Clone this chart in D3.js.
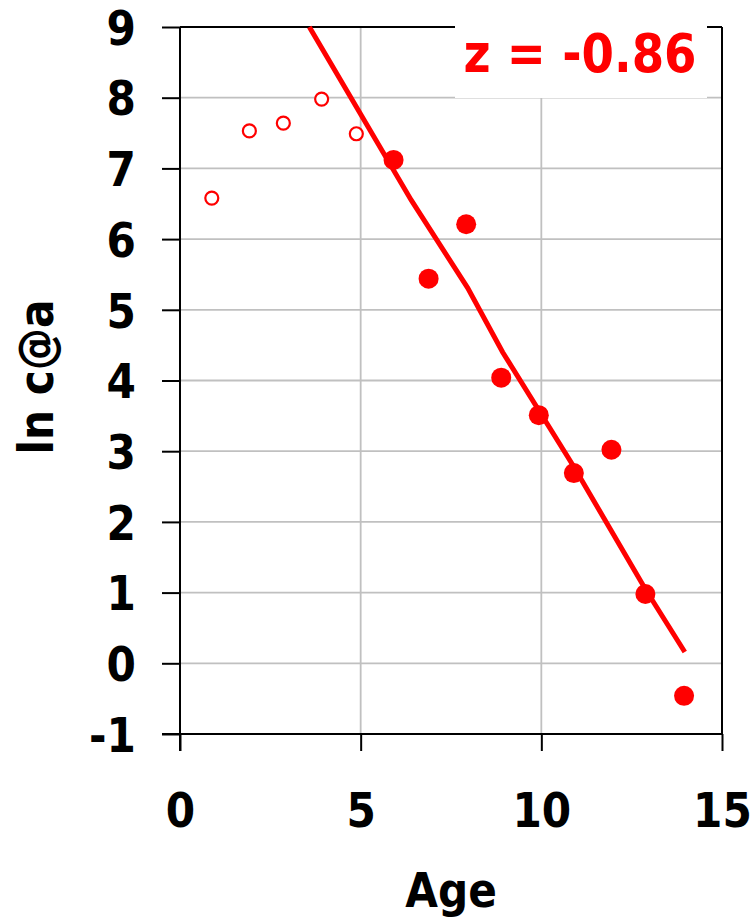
<!DOCTYPE html>
<html>
<head>
<meta charset="utf-8">
<script src="https://cdn.jsdelivr.net/npm/d3@7"></script>
<style>
  body { margin: 0; background: #fff; }
  text { font-family: "DejaVu Sans", Verdana, sans-serif; font-weight: bold; }
</style>
</head>
<body>
<div id="chart"></div>
<script>
// Datos
// =====
var openAges   = [0.88, 1.92, 2.86, 3.92, 4.88];
var openValues = [6.58, 7.53, 7.64, 7.98, 7.49];

var fullAges   = [5.91, 6.88, 7.92, 8.89, 9.93, 10.9, 11.94, 12.88, 13.95];
var fullValues = [7.12, 5.44, 6.21, 4.04, 3.51, 2.69, 3.02, 0.98, -0.46];

// recta de regresion
var fitAges   = [3.58, 6.4, 7.96, 8.93, 10.9, 12.89, 13.97];
var fitValues = [9.0, 6.55, 5.31, 4.40, 2.78, 1.04, 0.16];

var xTicks = [0, 5, 10, 15];
var yTicks = [-1, 0, 1, 2, 3, 4, 5, 6, 7, 8, 9];
var label = "z = -0.86";

// Dimensiones
// ===========
var margin = { top: 27, right: 32, bottom: 186, left: 180 },
  width = 754 - margin.left - margin.right,
  height = 920 - margin.top - margin.bottom;

var sx = 0.88; // el texto original es mas estrecho

var svg = d3.select("#chart")
  .append("svg")
  .attr("width", width + margin.left + margin.right)
  .attr("height", height + margin.top + margin.bottom)
  .append("g")
  .attr("transform", "translate(" + margin.left + "," + margin.top + ")");

var x = d3.scaleLinear().domain([0, 15]).range([0, width]);
var y = d3.scaleLinear().domain([-1, 9]).range([height, 0]);

// Rejilla
// =======
svg.selectAll(".hgrid")
  .data(yTicks.filter(function(d) { return d > -1 && d < 9; }))
  .enter().append("line")
  .attr("x1", 0).attr("x2", width)
  .attr("y1", function(d) { return y(d); })
  .attr("y2", function(d) { return y(d); })
  .attr("stroke", "#c0c0c0").attr("stroke-width", 1.8);

svg.selectAll(".vgrid")
  .data(xTicks.filter(function(d) { return d > 0 && d < 15; }))
  .enter().append("line")
  .attr("x1", function(d) { return x(d); })
  .attr("x2", function(d) { return x(d); })
  .attr("y1", 0).attr("y2", height)
  .attr("stroke", "#c0c0c0").attr("stroke-width", 1.8);

// Ejes
// ====
var fmt = function(d) { return String(d); }; // guion normal, no signo menos

var yAxis = svg.append("g")
  .call(d3.axisLeft(y).tickValues(yTicks).tickFormat(fmt).tickSize(18).tickSizeOuter(0));
yAxis.select(".domain").remove();
yAxis.selectAll("line").attr("stroke", "#000").attr("stroke-width", 2);
yAxis.selectAll("text")
  .attr("transform", "scale(" + sx + ",1)")
  .attr("x", -44 / sx)
  .attr("dy", "0.36em")
  .attr("fill", "#000")
  .style("font-size", "48px");

var xAxis = svg.append("g")
  .attr("transform", "translate(0," + height + ")")
  .call(d3.axisBottom(x).tickValues(xTicks).tickFormat(fmt).tickSize(17).tickSizeOuter(0));
xAxis.select(".domain").remove();
xAxis.selectAll("line").attr("stroke", "#000").attr("stroke-width", 2);
xAxis.selectAll("text")
  .attr("transform", "scale(" + sx + ",1)")
  .attr("x", 0)
  .attr("y", 93)
  .attr("dy", 0)
  .attr("fill", "#000")
  .style("font-size", "48px");

// Marco
svg.append("line").attr("x1", 0).attr("x2", 0).attr("y1", 0).attr("y2", height + 17)
  .attr("stroke", "#000").attr("stroke-width", 2);
svg.append("line").attr("x1", -18).attr("x2", width).attr("y1", height).attr("y2", height)
  .attr("stroke", "#000").attr("stroke-width", 2);
svg.append("line").attr("x1", 0).attr("x2", width).attr("y1", 0).attr("y2", 0)
  .attr("stroke", "#000").attr("stroke-width", 2);
svg.append("line").attr("x1", width).attr("x2", width).attr("y1", 0).attr("y2", height)
  .attr("stroke", "#000").attr("stroke-width", 2);

// Titulos de ejes
svg.append("g")
  .attr("transform", "translate(" + (width / 2) + "," + (height + 173) + ")")
  .append("text")
  .attr("transform", "scale(" + sx + ",1)")
  .attr("text-anchor", "middle")
  .style("font-size", "48px")
  .text("Age");

svg.append("g")
  .attr("transform", "translate(" + (53 - margin.left) + "," + (377 - margin.top) + ") rotate(-90)")
  .append("text")
  .attr("transform", "scale(" + sx + ",1)")
  .attr("text-anchor", "middle")
  .style("font-size", "48px")
  .text("ln c@a");

// Etiqueta con fondo blanco
// =========================
svg.append("rect")
  .attr("x", 455 - margin.left).attr("y", 10 - margin.top)
  .attr("width", 252).attr("height", 88)
  .attr("fill", "#fff");

svg.append("g")
  .attr("transform", "translate(" + (580 - margin.left) + "," + (72 - margin.top) + ")")
  .append("text")
  .attr("transform", "scale(" + sx + ",1)")
  .attr("text-anchor", "middle")
  .attr("fill", "#ff0000")
  .style("font-size", "53px")
  .text(label);

// Recta
// =====
svg.append("path")
  .datum(d3.zip(fitAges, fitValues))
  .attr("fill", "none")
  .attr("stroke", "#ff0000")
  .attr("stroke-width", 5)
  .attr("d", d3.line()
    .x(function(d) { return x(d[0]); })
    .y(function(d) { return y(d[1]); }));

// Puntos
// ======
svg.selectAll(".open")
  .data(d3.zip(openAges, openValues))
  .enter().append("circle")
  .attr("cx", function(d) { return x(d[0]); })
  .attr("cy", function(d) { return y(d[1]); })
  .attr("r", 6.5)
  .attr("fill", "#fff")
  .attr("stroke", "#ff0000")
  .attr("stroke-width", 2.2);

svg.selectAll(".full")
  .data(d3.zip(fullAges, fullValues))
  .enter().append("circle")
  .attr("cx", function(d) { return x(d[0]); })
  .attr("cy", function(d) { return y(d[1]); })
  .attr("r", 10)
  .attr("fill", "#ff0000");
</script>
</body>
</html>
